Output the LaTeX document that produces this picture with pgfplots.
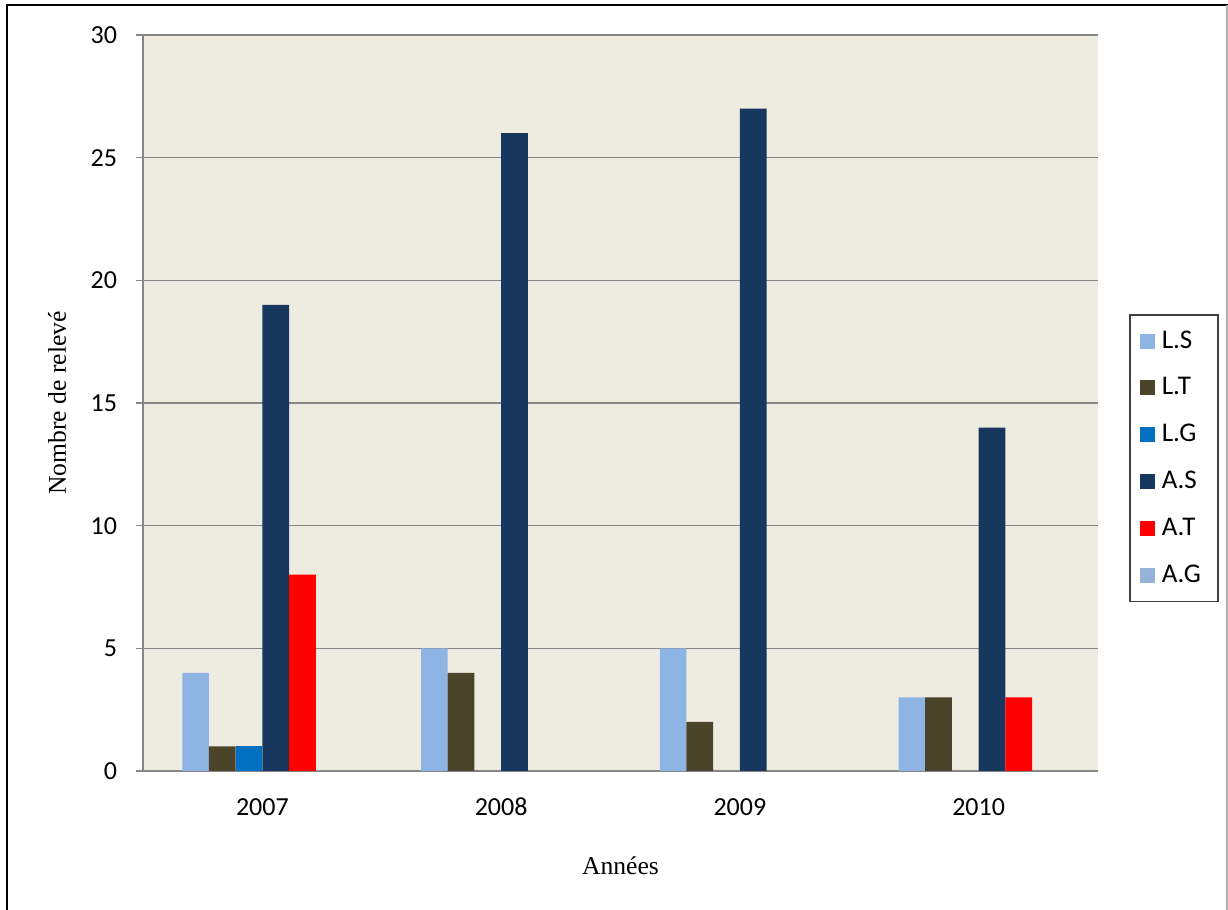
\documentclass[border=0pt]{standalone}
\usepackage{pgfplots}
\pgfplotsset{compat=1.18}
\usepackage{fontspec}
\setmainfont{Liberation Serif}
\newfontfamily\calfont{Carlito}
\definecolor{bgc}{RGB}{238,235,224}
\definecolor{gridc}{RGB}{134,134,134}
\definecolor{cLS}{RGB}{142,180,227}
\definecolor{cLT}{RGB}{74,69,42}
\definecolor{cLG}{RGB}{0,112,192}
\definecolor{cAS}{RGB}{23,55,94}
\definecolor{cAT}{RGB}{255,0,0}
\definecolor{cAG}{RGB}{149,179,215}
\begin{document}
\begin{tikzpicture}
\useasboundingbox (0,0) rectangle (614pt,455pt);
\draw[black,line width=1.2pt] (3.5pt,0) -- (3.5pt,452.5pt) -- (614pt,452.5pt);
\draw[gray!60,line width=0.6pt] (613.5pt,0) -- (613.5pt,452.5pt);
\begin{axis}[
  at={(71.5pt,69.5pt)}, anchor=south west,
  scale only axis, width=477.5pt, height=368pt,
  ybar=0pt, bar width=13.35pt,
  xmin=-0.5, xmax=3.5, ymin=0, ymax=30,
  xtick={0,1,2,3}, xticklabels={2007,2008,2009,2010},
  ytick={0,5,...,30},
  axis x line*=bottom, axis y line*=left,
  axis line style={draw=gridc, line width=0.8pt, -},
  major x tick style={draw=none},
  ytick style={draw=gridc, line width=0.8pt},
  tick align=outside, major tick length=3.5pt,
  ymajorgrids, grid style={draw=gridc, line width=0.6pt},
  axis background/.style={fill=bgc},
  tick label style={font=\calfont\fontsize{13}{15}\selectfont},
  /pgf/number format/assume math mode=true,
  yticklabel style={xshift=-6pt},
  xticklabel style={yshift=-9pt, text height=1.4ex, text depth=0pt},
  xlabel={Années}, ylabel={Nombre de relevé},
  label style={font=\fontsize{12.8}{15}\selectfont},
  xlabel style={at={(axis description cs:0.5,-0.129)}, anchor=center},
  ylabel style={at={(axis description cs:-0.090,0.5)}, anchor=center},
  legend style={at={(rel axis cs:1.0325,0.621)}, anchor=north west,
    draw=black!75, line width=0.8pt, font=\calfont\fontsize{13.5}{15}\selectfont,
    row sep=9.2pt, inner xsep=5pt, inner ysep=6pt,
    cells={anchor=west}, nodes={inner xsep=3.5pt}},
  legend image code/.code={\fill[#1] (0pt,-3.75pt) rectangle (7.5pt,3.75pt);},
]
\addplot[fill=cLS, draw=none] coordinates {(0,4) (1,5) (2,5) (3,3)};
\addplot[fill=cLT, draw=none] coordinates {(0,1) (1,4) (2,2) (3,3)};
\addplot[fill=cLG, draw=none] coordinates {(0,1)};
\addplot[fill=cAS, draw=none] coordinates {(0,19) (1,26) (2,27) (3,14)};
\addplot[fill=cAT, draw=none] coordinates {(0,8) (3,3)};
\addplot[fill=cAG, draw=none] coordinates {(0,0)};
\legend{L.S,L.T,L.G,A.S,A.T,A.G}
\end{axis}
\end{tikzpicture}
\end{document}
